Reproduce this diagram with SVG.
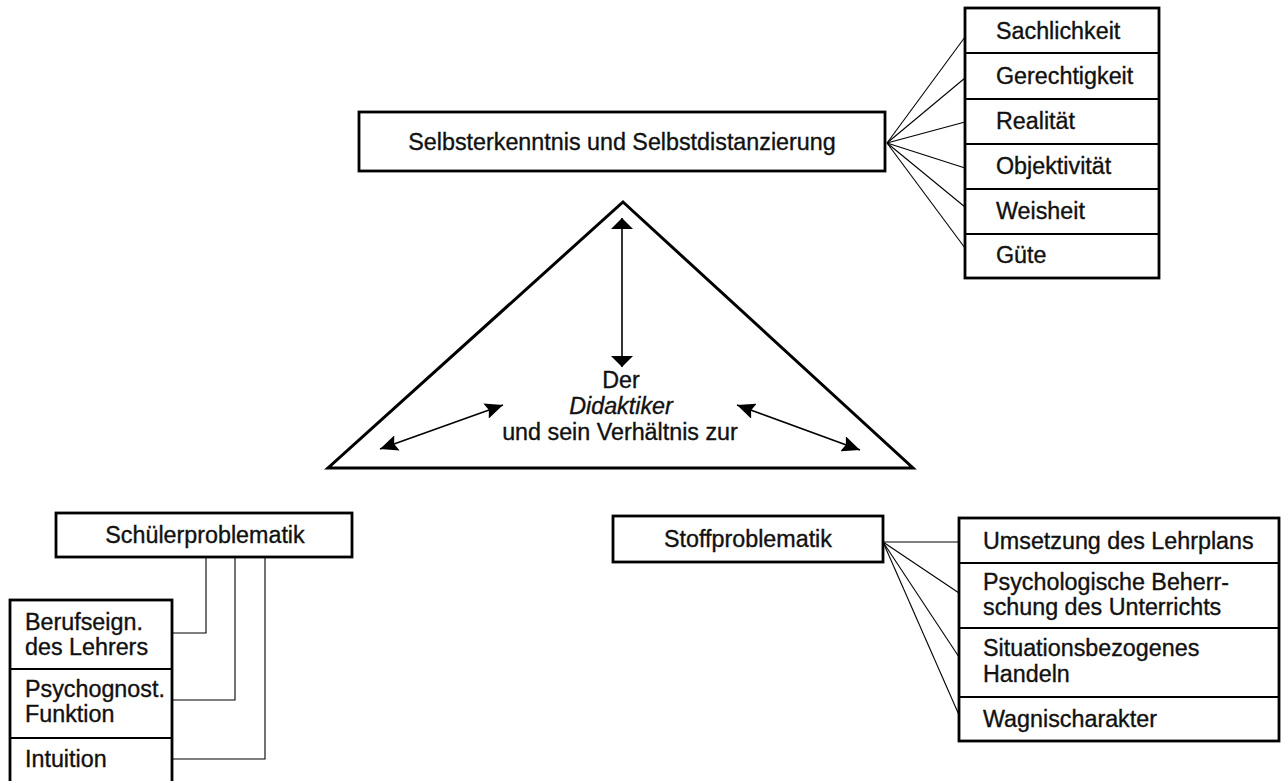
<svg xmlns="http://www.w3.org/2000/svg" width="1282" height="781" viewBox="0 0 1282 781">
<style>
  .box { fill: #fff; stroke: #000; stroke-width: 2.8; }
  .div { stroke: #000; stroke-width: 1.8; fill: none; }
  .conn { stroke: #000; stroke-width: 1.1; fill: none; }
  .tri { fill: none; stroke: #000; stroke-width: 3; stroke-linejoin: miter; }
  .arr { stroke: #000; stroke-width: 1.6; fill: none; }
  text { font-family: "Liberation Sans", Arial, sans-serif; font-size: 23.3px; fill: #111; stroke: #111; stroke-width: 0.35; }
  .c { text-anchor: middle; }
  .it { font-style: italic; }
</style>
<defs>
  <marker id="headV" markerUnits="userSpaceOnUse" markerWidth="11" markerHeight="22" viewBox="0 0 11 22" refX="11" refY="11" orient="auto-start-reverse">
    <path d="M0,0 L11,11 L0,22 Z" fill="#000"/>
  </marker>
  <marker id="headD" markerUnits="userSpaceOnUse" markerWidth="18" markerHeight="16" viewBox="0 0 18 16" refX="18" refY="8" orient="auto-start-reverse">
    <path d="M0,0 L18,8 L0,16 L3,8 Z" fill="#000"/>
  </marker>
</defs>

<g id="connectors">
  <line class="conn" x1="887" y1="143" x2="965" y2="37"/>
  <line class="conn" x1="887" y1="143" x2="965" y2="78"/>
  <line class="conn" x1="887" y1="143" x2="965" y2="122"/>
  <line class="conn" x1="887" y1="143" x2="965" y2="168"/>
  <line class="conn" x1="887" y1="143" x2="965" y2="207"/>
  <line class="conn" x1="887" y1="143" x2="965" y2="248"/>
  <line class="conn" x1="883" y1="542" x2="959" y2="542"/>
  <line class="conn" x1="883" y1="542" x2="959" y2="593"/>
  <line class="conn" x1="883" y1="542" x2="959" y2="657"/>
  <line class="conn" x1="883" y1="542" x2="959" y2="715"/>
  <polyline class="conn" points="206,557 206,633 172,633"/>
  <polyline class="conn" points="235,557 235,700 172,700"/>
  <polyline class="conn" points="265,557 265,759 172,759"/>
  <line class="arr" x1="622" y1="218" x2="622" y2="367" marker-start="url(#headV)" marker-end="url(#headV)"/>
  <line class="arr" x1="380" y1="449" x2="503" y2="405" marker-start="url(#headD)" marker-end="url(#headD)"/>
  <line class="arr" x1="737" y1="405" x2="860" y2="450" marker-start="url(#headD)" marker-end="url(#headD)"/>
</g>

<g id="triangle">
  <polygon class="tri" points="623,202 913,468 328,468"/>
  <text class="c" x="621" y="388">Der</text>
  <text class="c it" x="621" y="414">Didaktiker</text>
  <text class="c" x="620" y="440">und sein Verhältnis zur</text>
</g>

<g id="selbst">
  <rect class="box" x="359" y="112" width="526" height="59"/>
  <text class="c" x="622" y="150">Selbsterkenntnis und Selbstdistanzierung</text>
</g>

<g id="werte">
  <rect class="box" x="965" y="8" width="194" height="270"/>
  <line class="div" x1="965" y1="53" x2="1159" y2="53"/>
  <line class="div" x1="965" y1="99" x2="1159" y2="99"/>
  <line class="div" x1="965" y1="144" x2="1159" y2="144"/>
  <line class="div" x1="965" y1="189" x2="1159" y2="189"/>
  <line class="div" x1="965" y1="234" x2="1159" y2="234"/>
  <text x="996" y="39">Sachlichkeit</text>
  <text x="996" y="84">Gerechtigkeit</text>
  <text x="996" y="129">Realität</text>
  <text x="996" y="174">Objektivität</text>
  <text x="996" y="219">Weisheit</text>
  <text x="996" y="263">Güte</text>
</g>

<g id="schueler">
  <rect class="box" x="56" y="513" width="296" height="44"/>
  <text class="c" x="205" y="543">Schülerproblematik</text>
</g>

<g id="schueler-liste">
  <rect class="box" x="10" y="600" width="162" height="200"/>
  <line class="div" x1="10" y1="669" x2="172" y2="669"/>
  <line class="div" x1="10" y1="738" x2="172" y2="738"/>
  <text x="25" y="630">Berufseign.</text>
  <text x="25" y="655">des Lehrers</text>
  <text x="25" y="697">Psychognost.</text>
  <text x="25" y="722">Funktion</text>
  <text x="25" y="767">Intuition</text>
</g>

<g id="stoff">
  <rect class="box" x="613" y="516" width="270" height="46"/>
  <text class="c" x="748" y="547">Stoffproblematik</text>
</g>

<g id="stoff-liste">
  <rect class="box" x="959" y="518" width="320" height="223"/>
  <line class="div" x1="959" y1="563" x2="1279" y2="563"/>
  <line class="div" x1="959" y1="628" x2="1279" y2="628"/>
  <line class="div" x1="959" y1="697" x2="1279" y2="697"/>
  <text x="983" y="549">Umsetzung des Lehrplans</text>
  <text x="983" y="590">Psychologische Beherr-</text>
  <text x="983" y="615">schung des Unterrichts</text>
  <text x="983" y="656">Situationsbezogenes</text>
  <text x="983" y="682">Handeln</text>
  <text x="983" y="727">Wagnischarakter</text>
</g>
</svg>
